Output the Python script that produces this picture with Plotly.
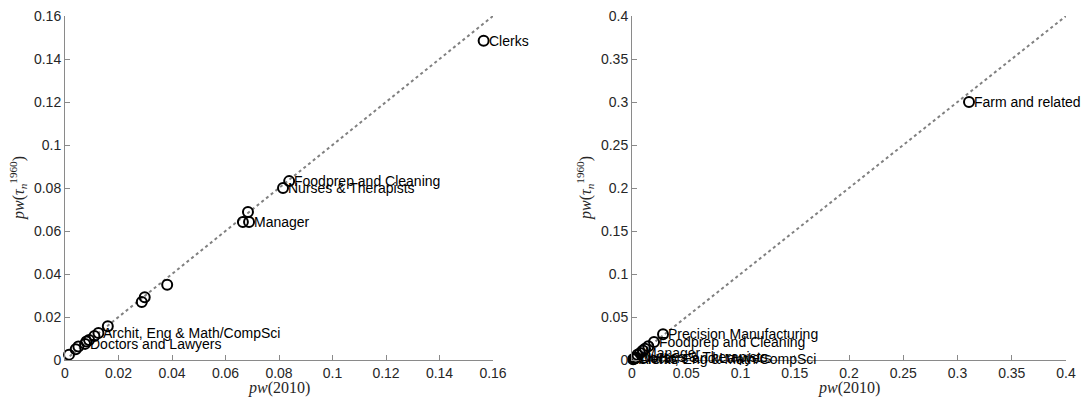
import plotly.graph_objects as go

# Panel 1: occupations, pw(2010) vs pw(tau_n^1960)
left_x = [0.0015, 0.0040, 0.0050, 0.0075, 0.0080, 0.0090, 0.0110, 0.0125, 0.0160,
          0.0287, 0.0298, 0.0382, 0.0665, 0.0688, 0.0684, 0.0815, 0.0838, 0.1565]
left_y = [0.0025, 0.0050, 0.0063, 0.0075, 0.0086, 0.0093, 0.0112, 0.0126, 0.0157,
          0.0270, 0.0292, 0.0350, 0.0642, 0.0642, 0.0688, 0.0800, 0.0832, 0.1485]
left_labels = ["", "", "", "Doctors and Lawyers", "", "", "", "Archit, Eng & Math/CompSci", "",
               "", "", "", "", "Manager", "", "Nurses & Therapists", "Foodprep and Cleaning", "Clerks"]
left_ticks = [0, 0.02, 0.04, 0.06, 0.08, 0.1, 0.12, 0.14, 0.16]

# Panel 2
right_x = [0.0010, 0.0020, 0.0030, 0.0040, 0.0050, 0.0074, 0.0100, 0.0120, 0.0150,
           0.0203, 0.0286, 0.3106]
right_y = [0.0010, 0.0015, 0.0020, 0.0030, 0.0060, 0.0080, 0.0110, 0.0130, 0.0160,
           0.0210, 0.0300, 0.3000]
right_labels = ["Clerks", "Archit, Eng & Math/CompSci", "Doctors and Lawyers", "Nurses & Therapists",
                "", "Manager", "", "", "", "Foodprep and Cleaning", "Precision Manufacturing",
                "Farm and related"]
right_ticks = [0, 0.05, 0.1, 0.15, 0.2, 0.25, 0.3, 0.35, 0.4]

W, H = 1086, 403
SANS = "Liberation Sans"
SERIF = "Liberation Serif"
AXIS_GREY = "#8a8a8a"
TEXT_DARK = "#262626"

fig = go.Figure()

panels = [
    ("x", "y", left_x, left_y, left_labels, left_ticks, [65, 493]),
    ("x2", "y2", right_x, right_y, right_labels, right_ticks, [632, 1066]),
]
y_px = [16, 360]

for xr, yr, xs, ys, labels, ticks, xpx in panels:
    top = ticks[-1]
    # 45-degree reference line
    fig.add_trace(go.Scatter(x=[0, top], y=[0, top], xaxis=xr, yaxis=yr, mode="lines",
                             line=dict(color="#808080", width=2, dash="dot"),
                             hoverinfo="skip", showlegend=False))
    fig.add_trace(go.Scatter(x=xs, y=ys, xaxis=xr, yaxis=yr, mode="markers",
                             marker=dict(symbol="circle-open", size=10, color="black",
                                         line=dict(width=2, color="black")),
                             cliponaxis=False, showlegend=False))
    for xv, yv, lab in zip(xs, ys, labels):
        if lab:
            fig.add_annotation(x=xv, y=yv, xref=xr, yref=yr, text=lab, showarrow=False,
                               xanchor="left", yanchor="middle", xshift=3,
                               font=dict(family=SANS, size=14, color="black"))

    axis_common = dict(showline=True, linecolor=AXIS_GREY, linewidth=1, mirror=False,
                       showgrid=False, zeroline=False, ticks="inside", ticklen=5,
                       tickcolor=AXIS_GREY, tickwidth=1,
                       tickfont=dict(family=SANS, size=14, color=TEXT_DARK),
                       tickvals=ticks, range=[0, top], automargin=False)
    xname = "xaxis" if xr == "x" else "xaxis2"
    yname = "yaxis" if yr == "y" else "yaxis2"
    fig.layout[xname] = dict(domain=[xpx[0] / W, xpx[1] / W], anchor=yr, **axis_common)
    fig.layout[yname] = dict(domain=[(H - y_px[1]) / H, (H - y_px[0]) / H], anchor=xr,
                             **axis_common)

    # axis titles
    cx = (xpx[0] + xpx[1]) / 2
    fig.add_annotation(x=cx / W, y=(H - 388) / H, xref="paper", yref="paper",
                       text="<i>pw</i>(2010)", showarrow=False, xanchor="center",
                       yanchor="middle", font=dict(family=SERIF, size=16, color=TEXT_DARK))
    fig.add_annotation(x=(xpx[0] - 47) / W, y=(H - (y_px[0] + y_px[1]) / 2) / H,
                       xref="paper", yref="paper", textangle=-90,
                       text="<i>pw</i>(<i>τ</i><sub><i>n</i></sub><sup>1960</sup>)",
                       showarrow=False, xanchor="center", yanchor="middle",
                       font=dict(family=SERIF, size=16, color=TEXT_DARK))

fig.update_layout(width=W, height=H, margin=dict(l=0, r=0, t=0, b=0),
                  paper_bgcolor="white", plot_bgcolor="white", showlegend=False)

fig.write_html("out.html")
